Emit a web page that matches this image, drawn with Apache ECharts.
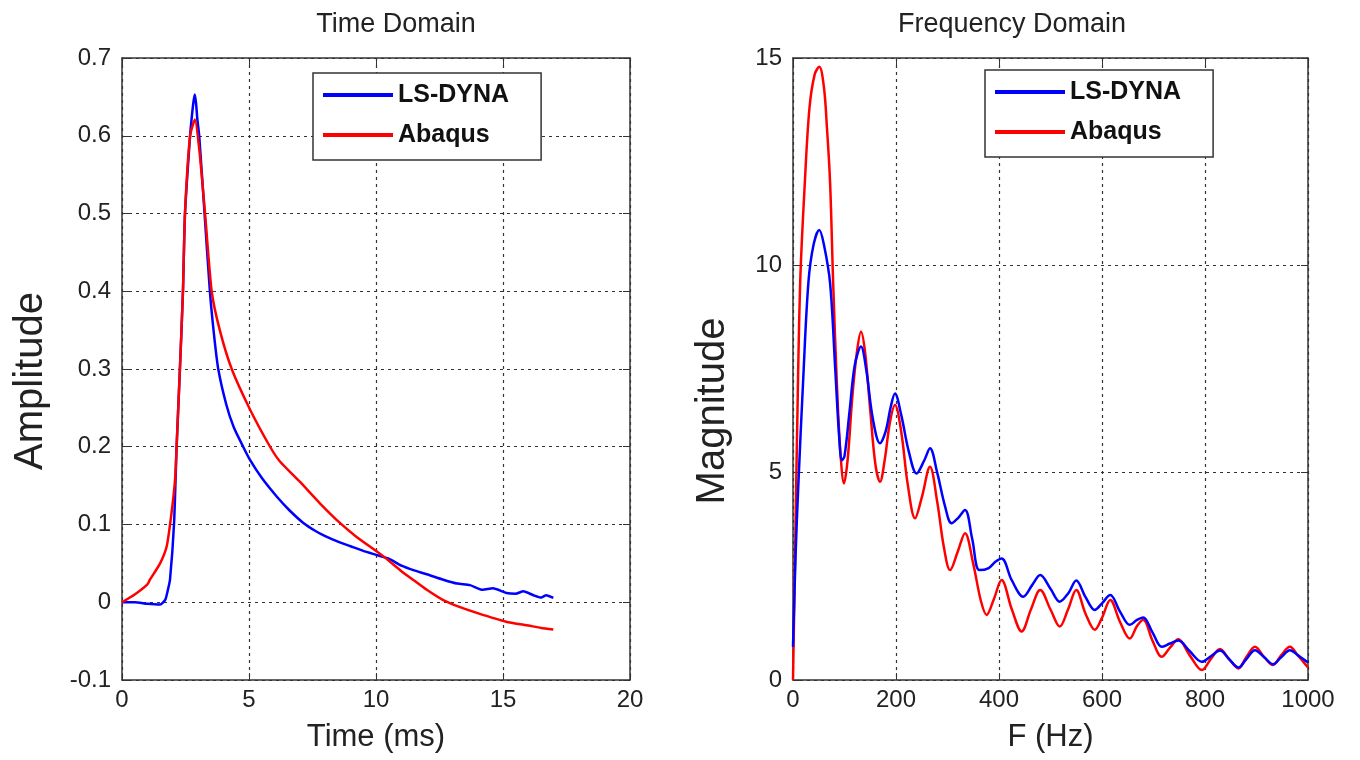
<!DOCTYPE html>
<html><head><meta charset="utf-8">
<script src="https://cdn.jsdelivr.net/npm/echarts@6/dist/echarts.min.js"></script>
<style>html,body{margin:0;padding:0;background:#fff}#c{width:1360px;height:760px}</style>
</head><body><div id="c"></div>
<script>
// ---- Time domain data ----
const tBlue = [0,0.5,1.0,1.5,1.7,1.8,1.89,2.05,2.15,2.28,2.4,2.48,2.68,2.75,2.82,2.87,2.92,2.97,3.04,3.25,3.46,3.62,3.79,4.1,4.4,4.77,5.04,5.5,6.09,6.6,7.14,7.6,8.0,8.5,9.0,9.5,10.0,10.5,11.0,11.5,12.0,12.65,13.2,13.7,14.2,14.6,15.14,15.5,15.8,16.2,16.5,16.7,16.98];
const aBlue = [0,0,-0.002,-0.003,0.003,0.015,0.029,0.102,0.2,0.3,0.4,0.5,0.6,0.625,0.645,0.653,0.64,0.62,0.6,0.5,0.4,0.345,0.3,0.255,0.225,0.2,0.183,0.16,0.136,0.118,0.102,0.092,0.085,0.078,0.072,0.066,0.061,0.056,0.047,0.041,0.036,0.029,0.024,0.022,0.016,0.018,0.012,0.011,0.014,0.009,0.006,0.009,0.0055];
const tRed = [0,0.5,1.0,1.1,1.5,1.76,1.95,2.09,2.15,2.28,2.4,2.48,2.68,2.87,3.05,3.27,3.53,3.85,4.32,5.04,5.83,6.22,7.0,7.8,8.58,9.2,10.29,11.0,11.5,12.0,12.63,13.2,14.0,15.12,16.0,16.5,16.98];
const aRed = [0,0.01,0.023,0.029,0.05,0.072,0.115,0.158,0.2,0.3,0.4,0.5,0.6,0.621,0.58,0.5,0.4,0.35,0.3,0.248,0.2,0.181,0.155,0.127,0.102,0.085,0.059,0.04,0.028,0.016,0.003,-0.005,-0.014,-0.025,-0.03,-0.033,-0.035];
// ---- Frequency domain data ----
const fBlue = [0,5,10,20,30,40,51,60,72,82,90,95,100,110,120,132,142,155,169,180,190,198,210,225,240,255,266,280,295,308,320,334,348,362,380,393,405,425,447,465,480,500,518,535,550,568,586,600,616,635,654,668,680,698,716,732,748,770,794,812,829,847,865,880,897,915,932,948,965,980,1000];
const mBlue = [0.8,3.0,4.6,7.3,9.6,10.5,10.85,10.5,9.57,7.5,5.8,5.3,5.4,6.5,7.6,8.04,7.5,6.3,5.71,6.0,6.6,6.91,6.4,5.5,4.98,5.3,5.59,5.0,4.2,3.78,3.9,4.1,3.4,2.65,2.7,2.85,2.93,2.4,2.01,2.3,2.53,2.2,1.89,2.1,2.4,2.0,1.69,1.85,2.05,1.65,1.33,1.45,1.51,1.15,0.8,0.88,0.95,0.7,0.44,0.58,0.71,0.5,0.3,0.5,0.72,0.55,0.38,0.55,0.72,0.6,0.42];
const fRed = [0,4,8,14,23,32,42,51,60,66,72,78,85,92,99,106,115,124,132,140,150,160,169,178,188,198,210,223,237,250,266,280,293,305,320,334,350,365,376,390,405,425,444,462,480,500,518,534,550,568,586,600,616,635,654,668,680,698,716,732,748,770,794,812,829,847,865,880,897,915,932,948,965,980,1000];
const mRed = [0,3.0,6.0,9.6,12.0,13.8,14.6,14.79,14.3,13.3,12.0,9.57,7.2,5.5,4.74,5.3,6.8,7.9,8.4,7.9,6.5,5.2,4.78,5.3,6.2,6.63,6.0,4.7,3.9,4.4,5.14,4.3,3.2,2.65,3.1,3.54,2.8,1.9,1.57,1.95,2.41,1.7,1.17,1.7,2.17,1.7,1.29,1.7,2.17,1.6,1.21,1.5,1.93,1.4,1.0,1.3,1.45,0.95,0.56,0.78,0.98,0.6,0.24,0.52,0.75,0.5,0.28,0.55,0.8,0.55,0.36,0.6,0.8,0.6,0.3];
const seriesNames = ['LS-DYNA','Abaqus'];
const timeTicks = {min:0,max:20,interval:5};
const ampTicks = {min:-0.1,max:0.7,interval:0.1};
const freqTicks = {min:0,max:1000,interval:200};
const magTicks = {min:0,max:15,interval:5};

const zip = (xs, ys) => xs.map((x,i)=>[x,ys[i]]);
const FONT = 'Liberation Sans, Arial, sans-serif';
const gridLine = {show:true, lineStyle:{color:'#333', width:1.2, type:[3,4]}};
const lbl = {color:'#222', fontSize:24, fontFamily:FONT};
function mainX(idx, t, name){
  return {type:'value', gridIndex:idx, position:'bottom', min:t.min, max:t.max, interval:t.interval,
    name:name, nameLocation:'middle', nameGap:42, nameTextStyle:{fontSize:31, color:'#222', fontFamily:FONT},
    axisLine:{show:true, onZero:false, lineStyle:{color:'#333', width:1.5}},
    axisTick:{show:true, inside:true, length:7, lineStyle:{color:'#333'}},
    axisLabel:Object.assign({margin:8, formatter:v=>String(v)}, lbl),
    splitLine:gridLine};
}
function mainY(idx, t, fmt){
  return {type:'value', gridIndex:idx, position:'left', min:t.min, max:t.max, interval:t.interval,
    axisLine:{show:true, onZero:false, lineStyle:{color:'#333', width:1.5}},
    axisTick:{show:true, inside:true, length:7, lineStyle:{color:'#333'}},
    axisLabel:Object.assign({margin:11, formatter:fmt}, lbl),
    splitLine:gridLine};
}
function sideX(idx, t){
  return {type:'value', gridIndex:idx, position:'top', min:t.min, max:t.max, interval:t.interval,
    axisLine:{show:true, onZero:false, lineStyle:{color:'#333', width:1.5}},
    axisTick:{show:true, inside:true, length:7, lineStyle:{color:'#333'}},
    axisLabel:{show:false}, splitLine:{show:false}};
}
function sideY(idx, t){
  return {type:'value', gridIndex:idx, position:'right', min:t.min, max:t.max, interval:t.interval,
    axisLine:{show:true, onZero:false, lineStyle:{color:'#333', width:1.5}},
    axisTick:{show:true, inside:true, length:7, lineStyle:{color:'#333'}},
    axisLabel:{show:false}, splitLine:{show:false}};
}
function legend(left, top){
  return {left:left, top:top, orient:'vertical', data:seriesNames, icon:'rect',
    itemWidth:70, itemHeight:4, itemGap:12, padding:[8,32,11,10],
    borderColor:'#333', borderWidth:1.5, backgroundColor:'#fff',
    selectedMode:false,
    textStyle:{fontSize:25, fontWeight:'bold', color:'#111', fontFamily:FONT, lineHeight:28}};
}
function line(name, color, data, xi, yi, smooth){
  return {type:'line', name:name, data:data, xAxisIndex:xi, yAxisIndex:yi,
    showSymbol:false, symbol:'none', smooth:smooth, color:color,
    lineStyle:{color:color, width:2.5}, animation:false, z:5};
}
function yName(text, x, y){
  return {type:'text', x:x, y:y, rotation:Math.PI/2,
    style:{text:text, fontSize:40, fontFamily:FONT, fill:'#222', textAlign:'center', textVerticalAlign:'middle'}};
}
const chart = echarts.init(document.getElementById('c'), null, {renderer:'canvas'});
chart.setOption({
  backgroundColor:'#fff',
  animation:false,
  title:[
    {text:'Time Domain', left:391, top:6, textAlign:'center', textStyle:{fontSize:27, fontWeight:'normal', color:'#222', fontFamily:FONT}},
    {text:'Frequency Domain', left:1007, top:6, textAlign:'center', textStyle:{fontSize:27, fontWeight:'normal', color:'#222', fontFamily:FONT}}
  ],
  legend:[legend(313,73), legend(985,70)],
  grid:[
    {left:122, right:730, top:58, bottom:80},
    {left:793, right:52, top:58, bottom:80}
  ],
  xAxis:[mainX(0,timeTicks,'Time (ms)'), sideX(0,timeTicks), mainX(1,freqTicks,'F (Hz)'), sideX(1,freqTicks)],
  yAxis:[mainY(0,ampTicks, v=>String(Math.round(v*10)/10)), sideY(0,ampTicks), mainY(1,magTicks, v=>String(v)), sideY(1,magTicks)],
  graphic:[yName('Amplitude', 31, 381), yName('Magnitude', 713, 411)],
  series:[
    line('LS-DYNA','#0000ff', zip(tBlue,aBlue), 0, 0, 0.2),
    line('Abaqus','#ff0000', zip(tRed,aRed), 0, 0, 0.2),
    line('Abaqus','#ff0000', zip(fRed,mRed), 2, 2, 0.35),
    line('LS-DYNA','#0000ff', zip(fBlue,mBlue), 2, 2, 0.35)
  ]
});
</script></body></html>
